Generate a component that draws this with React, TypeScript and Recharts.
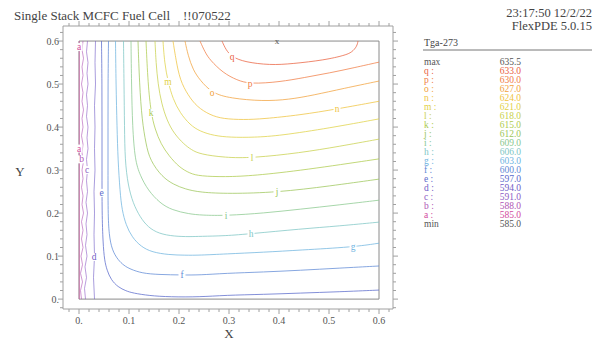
import { LineChart, Line, XAxis, YAxis, ReferenceArea, ReferenceDot } from "recharts";

type Pt = [number, number];

// contour levels (Tga-273)
const levelNames = ["a", "b", "c", "d", "e", "f", "g", "h", "i", "j", "k", "l", "m", "n", "o", "p", "q"];
const levelValues = [585.0, 588.0, 591.0, 594.0, 597.0, 600.0, 603.0, 606.0, 609.0, 612.0, 615.0, 618.0, 621.0, 624.0, 627.0, 630.0, 633.0];
const maxValue = 635.5;
const minValue = 585.0;

const contourA: Pt[] = [[0.0006, 0], [0.0006, 0.6]];
const contourB: Pt[] = [
  [0.008, 0.6], [0.006, 0.58], [0.009, 0.56], [0.006, 0.54], [0.008, 0.52], [0.005, 0.5], [0.008, 0.48],
  [0.006, 0.46], [0.009, 0.44], [0.006, 0.42], [0.008, 0.4], [0.005, 0.38], [0.008, 0.36], [0.006, 0.34],
  [0.009, 0.32], [0.006, 0.3], [0.008, 0.28], [0.005, 0.26], [0.008, 0.24], [0.006, 0.22], [0.009, 0.2],
  [0.005, 0.18], [0.008, 0.16], [0.005, 0.14], [0.008, 0.12], [0.004, 0.1], [0.007, 0.08], [0.003, 0.06],
  [0.007, 0.04], [0.003, 0.02], [0.005, 0],
];
const contourC: Pt[] = [
  [0.017, 0.6], [0.015, 0.575], [0.018, 0.55], [0.016, 0.525], [0.018, 0.5], [0.015, 0.475], [0.017, 0.45],
  [0.015, 0.425], [0.018, 0.4], [0.016, 0.375], [0.018, 0.35], [0.015, 0.325], [0.017, 0.3], [0.015, 0.275],
  [0.017, 0.25], [0.014, 0.225], [0.017, 0.2], [0.014, 0.175], [0.016, 0.15], [0.013, 0.125], [0.016, 0.1],
  [0.012, 0.075], [0.015, 0.05], [0.011, 0.025], [0.013, 0],
];
const contourD: Pt[] = [
  [0.033, 0.6], [0.032, 0.55], [0.033, 0.5], [0.031, 0.45], [0.032, 0.4], [0.031, 0.35], [0.032, 0.3],
  [0.03, 0.25], [0.031, 0.2], [0.03, 0.15], [0.031, 0.1], [0.029, 0.05], [0.031, 0],
];
const contourE: Pt[] = [
  [0.045, 0.6], [0.046, 0.5], [0.046, 0.4], [0.046, 0.3], [0.046, 0.2], [0.048, 0.13], [0.051, 0.09],
  [0.056, 0.067], [0.064, 0.045], [0.078, 0.028], [0.094, 0.019], [0.108, 0.014], [0.14, 0.008],
  [0.182, 0.005], [0.242, 0.005], [0.292, 0.009], [0.37, 0.011], [0.442, 0.014], [0.52, 0.017], [0.6, 0.021],
];
const contourF: Pt[] = [
  [0.059, 0.6], [0.058, 0.5], [0.058, 0.4], [0.058, 0.3], [0.058, 0.2], [0.06, 0.15], [0.066, 0.114],
  [0.078, 0.091], [0.09, 0.078], [0.102, 0.07], [0.126, 0.06], [0.16, 0.057], [0.206, 0.056],
  [0.242, 0.056], [0.292, 0.06], [0.37, 0.063], [0.442, 0.067], [0.52, 0.072], [0.6, 0.077],
];
const contourG: Pt[] = [
  [0.073, 0.6], [0.074, 0.5], [0.076, 0.4], [0.078, 0.323], [0.082, 0.25], [0.086, 0.207], [0.094, 0.172],
  [0.106, 0.144], [0.124, 0.122], [0.146, 0.109], [0.18, 0.103], [0.212, 0.102], [0.242, 0.102],
  [0.292, 0.105], [0.37, 0.109], [0.442, 0.114], [0.548, 0.121], [0.6, 0.13],
];
const contourH: Pt[] = [
  [0.089, 0.6], [0.09, 0.5], [0.091, 0.4], [0.092, 0.323], [0.098, 0.265], [0.108, 0.223], [0.122, 0.191],
  [0.138, 0.167], [0.16, 0.152], [0.19, 0.146], [0.222, 0.145], [0.242, 0.146], [0.292, 0.147],
  [0.344, 0.152], [0.442, 0.163], [0.52, 0.17], [0.6, 0.179],
];
const contourI: Pt[] = [
  [0.104, 0.6], [0.105, 0.5], [0.107, 0.4], [0.112, 0.323], [0.122, 0.288], [0.138, 0.253], [0.162, 0.223],
  [0.186, 0.207], [0.22, 0.198], [0.246, 0.195], [0.294, 0.194], [0.37, 0.2], [0.442, 0.209], [0.52, 0.219],
  [0.6, 0.23],
];
const contourJ: Pt[] = [
  [0.118, 0.6], [0.121, 0.5], [0.126, 0.416], [0.134, 0.36], [0.142, 0.323], [0.166, 0.284], [0.19, 0.266],
  [0.212, 0.256], [0.242, 0.248], [0.3, 0.245], [0.396, 0.248], [0.502, 0.263], [0.6, 0.279],
];
const contourK: Pt[] = [
  [0.134, 0.6], [0.138, 0.5], [0.144, 0.433], [0.152, 0.395], [0.164, 0.36], [0.18, 0.333], [0.2, 0.307],
  [0.222, 0.292], [0.242, 0.286], [0.292, 0.284], [0.35, 0.287], [0.45, 0.3], [0.6, 0.326],
];
const contourL: Pt[] = [
  [0.152, 0.6], [0.154, 0.55], [0.158, 0.5], [0.165, 0.455], [0.176, 0.415], [0.19, 0.385], [0.21, 0.36],
  [0.225, 0.347], [0.242, 0.337], [0.292, 0.329], [0.346, 0.328], [0.442, 0.34], [0.52, 0.355], [0.6, 0.372],
];
const contourM: Pt[] = [
  [0.168, 0.6], [0.171, 0.55], [0.178, 0.505], [0.188, 0.465], [0.202, 0.433], [0.222, 0.405], [0.242, 0.39],
  [0.27, 0.38], [0.302, 0.376], [0.35, 0.376], [0.402, 0.38], [0.502, 0.398], [0.6, 0.419],
];
const contourN: Pt[] = [
  [0.188, 0.6], [0.194, 0.556], [0.202, 0.509], [0.218, 0.474], [0.236, 0.447], [0.262, 0.428],
  [0.288, 0.419], [0.33, 0.417], [0.368, 0.419], [0.442, 0.428], [0.516, 0.442], [0.6, 0.46],
];
const contourO: Pt[] = [
  [0.212, 0.6], [0.218, 0.567], [0.228, 0.533], [0.242, 0.509], [0.266, 0.479], [0.302, 0.467],
  [0.368, 0.46], [0.42, 0.464], [0.468, 0.474], [0.53, 0.49], [0.6, 0.507],
];
const contourP: Pt[] = [
  [0.242, 0.6], [0.252, 0.574], [0.262, 0.556], [0.288, 0.526], [0.316, 0.509], [0.342, 0.5],
  [0.402, 0.505], [0.45, 0.515], [0.502, 0.526], [0.55, 0.538], [0.6, 0.551],
];
const contourQ: Pt[] = [
  [0.286, 0.6], [0.294, 0.579], [0.306, 0.563], [0.332, 0.551], [0.382, 0.544], [0.426, 0.547],
  [0.492, 0.556], [0.532, 0.567], [0.546, 0.574], [0.556, 0.588], [0.558, 0.6],
];

const contours: Pt[][] = [
  contourA, contourB, contourC, contourD, contourE, contourF, contourG, contourH, contourI,
  contourJ, contourK, contourL, contourM, contourN, contourO, contourP, contourQ,
];

// letter labels sitting on the contours
const contourLabels: [string, number, number][] = [
  ["a", 0, 0.586], ["a", 0, 0.35], ["b", 0.005, 0.325], ["c", 0.016, 0.3], ["d", 0.03, 0.098],
  ["e", 0.045, 0.247], ["f", 0.206, 0.056], ["g", 0.548, 0.121], ["h", 0.344, 0.152], ["i", 0.294, 0.194],
  ["j", 0.396, 0.248], ["k", 0.144, 0.433], ["l", 0.346, 0.328], ["m", 0.178, 0.505], ["n", 0.516, 0.442],
  ["o", 0.266, 0.479], ["p", 0.342, 0.5], ["q", 0.306, 0.563],
];
const maxMarker: Pt = [0.396, 0.6];

const xTicks = [-0.02, 0, 0.02, 0.04, 0.06, 0.08, 0.1, 0.12, 0.14, 0.16, 0.18, 0.2, 0.22, 0.24, 0.26, 0.28, 0.3,
  0.32, 0.34, 0.36, 0.38, 0.4, 0.42, 0.44, 0.46, 0.48, 0.5, 0.52, 0.54, 0.56, 0.58, 0.6, 0.62];
const yTicks = xTicks;

const colors = [
  "#d24a9e", "#b055b5", "#8e5cc4", "#6f5cc6", "#5a6acb", "#5f8ad6", "#6fb4df", "#7ec6c4", "#8ac88e",
  "#9cc65a", "#aecb4e", "#c8d04c", "#dfd146", "#efc33e", "#f2a23c", "#f07c44", "#e9603e",
];

const serif = '"Liberation Serif", "DejaVu Serif", serif';
const axisColor = "#a0a0a0";
const textColor = "#555";

const isMajor = (v: number) => Math.abs(v * 10 - Math.round(v * 10)) < 1e-6 && v > -0.001 && v < 0.601;
const fmt = (v: number) => (Math.abs(v) < 1e-9 ? "0." : v.toFixed(1));

const BottomTick = (p: any) => {
  const major = isMajor(p.payload.value);
  return (
    <g>
      <line x1={p.x} y1={p.y} x2={p.x} y2={p.y + (major ? 5 : 3)} stroke={axisColor} />
      {major && (
        <text x={p.x} y={p.y + 14.5} textAnchor="middle" fontFamily={serif} fontSize={10} fill={textColor}>
          {fmt(p.payload.value)}
        </text>
      )}
    </g>
  );
};
const LeftTick = (p: any) => {
  const major = isMajor(p.payload.value);
  return (
    <g>
      <line x1={p.x} y1={p.y} x2={p.x - (major ? 5 : 3)} y2={p.y} stroke={axisColor} />
      {major && (
        <text x={p.x - 4} y={p.y + 3.5} textAnchor="end" fontFamily={serif} fontSize={10} fill={textColor}>
          {fmt(p.payload.value)}
        </text>
      )}
    </g>
  );
};
const TopTick = (p: any) => (
  <line x1={p.x} y1={p.y} x2={p.x} y2={p.y - (isMajor(p.payload.value) ? 5 : 3)} stroke={axisColor} />
);
const RightTick = (p: any) => (
  <line x1={p.x} y1={p.y} x2={p.x + (isMajor(p.payload.value) ? 5 : 3)} y2={p.y} stroke={axisColor} />
);

const LetterLabel = ({ cx, cy, text, color }: any) => (
  <g>
    <rect x={cx - 3.5} y={cy - 4} width={7} height={8} fill="#fff" />
    <text x={cx} y={cy + 3} textAnchor="middle" fontFamily={serif} fontSize={9.5} fill={color}>
      {text}
    </text>
  </g>
);

export default function App() {
  const legendRows = levelNames
    .map((n, i) => ({ name: `${n} :`, value: levelValues[i].toFixed(1), color: colors[i] }))
    .reverse();
  const rows = [
    { name: "max", value: maxValue.toFixed(1), color: textColor },
    ...legendRows,
    { name: "min", value: minValue.toFixed(1), color: textColor },
  ];

  return (
    <div style={{ position: "relative", width: 604, height: 342, background: "#fff" }}>
      <style>{"body{margin:0}"}</style>
      <LineChart width={604} height={342} margin={{ top: 6, right: 191, bottom: 3, left: 3 }}>
        <XAxis
          xAxisId="b"
          dataKey="x"
          type="number"
          domain={[-0.032, 0.628]}
          allowDataOverflow
          ticks={xTicks}
          interval={0}
          height={30}
          tickSize={0}
          tickMargin={0}
          tickLine={false}
          stroke={axisColor}
          tick={BottomTick}
        />
        <XAxis
          xAxisId="t"
          orientation="top"
          dataKey="x"
          type="number"
          domain={[-0.032, 0.628]}
          allowDataOverflow
          ticks={xTicks}
          interval={0}
          height={20}
          tickSize={0}
          tickMargin={0}
          tickLine={false}
          stroke={axisColor}
          tick={TopTick}
        />
        <YAxis
          yAxisId="l"
          type="number"
          domain={[-0.023, 0.635]}
          allowDataOverflow
          ticks={yTicks}
          interval={0}
          width={60}
          tickSize={0}
          tickMargin={0}
          tickLine={false}
          stroke={axisColor}
          tick={LeftTick}
        />
        <YAxis
          yAxisId="r"
          orientation="right"
          type="number"
          domain={[-0.023, 0.635]}
          allowDataOverflow
          ticks={yTicks}
          interval={0}
          width={20}
          tickSize={0}
          tickMargin={0}
          tickLine={false}
          stroke={axisColor}
          tick={RightTick}
        />
        <ReferenceArea
          xAxisId="b"
          yAxisId="l"
          x1={0}
          x2={0.6}
          y1={0}
          y2={0.6}
          fill="none"
          stroke="#8a8a8a"
          strokeWidth={1}
          ifOverflow="visible"
        />
        {contours.map((pts, i) => (
          <Line
            key={levelNames[i]}
            xAxisId="b"
            yAxisId="l"
            data={pts.map(([x, y]) => ({ x, y }))}
            dataKey="y"
            type={i < 4 ? "linear" : "basis"}
            stroke={colors[i]}
            strokeOpacity={i < 4 ? 0.6 : 0.75}
            strokeWidth={1}
            dot={false}
            activeDot={false}
            isAnimationActive={false}
          />
        ))}
        {contourLabels.map(([t, x, y], i) => (
          <ReferenceDot
            key={`lbl${i}`}
            xAxisId="b"
            yAxisId="l"
            x={x}
            y={y}
            r={0}
            ifOverflow="visible"
            shape={(p: any) => (
              <LetterLabel cx={p.cx} cy={p.cy} text={t} color={colors[levelNames.indexOf(t)]} />
            )}
          />
        ))}
        <ReferenceDot
          xAxisId="b"
          yAxisId="l"
          x={maxMarker[0]}
          y={maxMarker[1]}
          r={0}
          ifOverflow="visible"
          shape={(p: any) => (
            <text x={p.cx} y={p.cy + 3} textAnchor="middle" fontFamily={serif} fontSize={9} fill="#555">
              x
            </text>
          )}
        />
      </LineChart>
      <svg width={604} height={342} style={{ position: "absolute", left: 0, top: 0, pointerEvents: "none" }}>
        <text x={14} y={19.5} fontFamily={serif} fontSize={13} fill="#444" style={{ whiteSpace: "pre" }}>
          {"Single Stack MCFC Fuel Cell    !!070522"}
        </text>
        <text x={592} y={16.5} textAnchor="end" fontFamily={serif} fontSize={12.5} fill="#444">
          23:17:50 12/2/22
        </text>
        <text x={592} y={29.5} textAnchor="end" fontFamily={serif} fontSize={12.5} fill="#444">
          FlexPDE 5.0.15
        </text>
        <text x={424} y={46} fontFamily={serif} fontSize={10} fill="#444">
          Tga-273
        </text>
        <line x1={423} y1={50} x2={592} y2={50} stroke="#777" strokeWidth={1} />
        {rows.map((r, i) => (
          <g key={r.name}>
            <text x={424} y={64.5 + i * 9} fontFamily={serif} fontSize={9.5} fill={r.color}>
              {r.name}
            </text>
            <text x={521} y={64.5 + i * 9} textAnchor="end" fontFamily={serif} fontSize={9.5} fill={r.color}>
              {r.value}
            </text>
          </g>
        ))}
        <text x={229} y={338} textAnchor="middle" fontFamily={serif} fontSize={13} fill="#444">
          X
        </text>
        <text x={20} y={175.5} textAnchor="middle" fontFamily={serif} fontSize={13} fill="#444">
          Y
        </text>
      </svg>
    </div>
  );
}
